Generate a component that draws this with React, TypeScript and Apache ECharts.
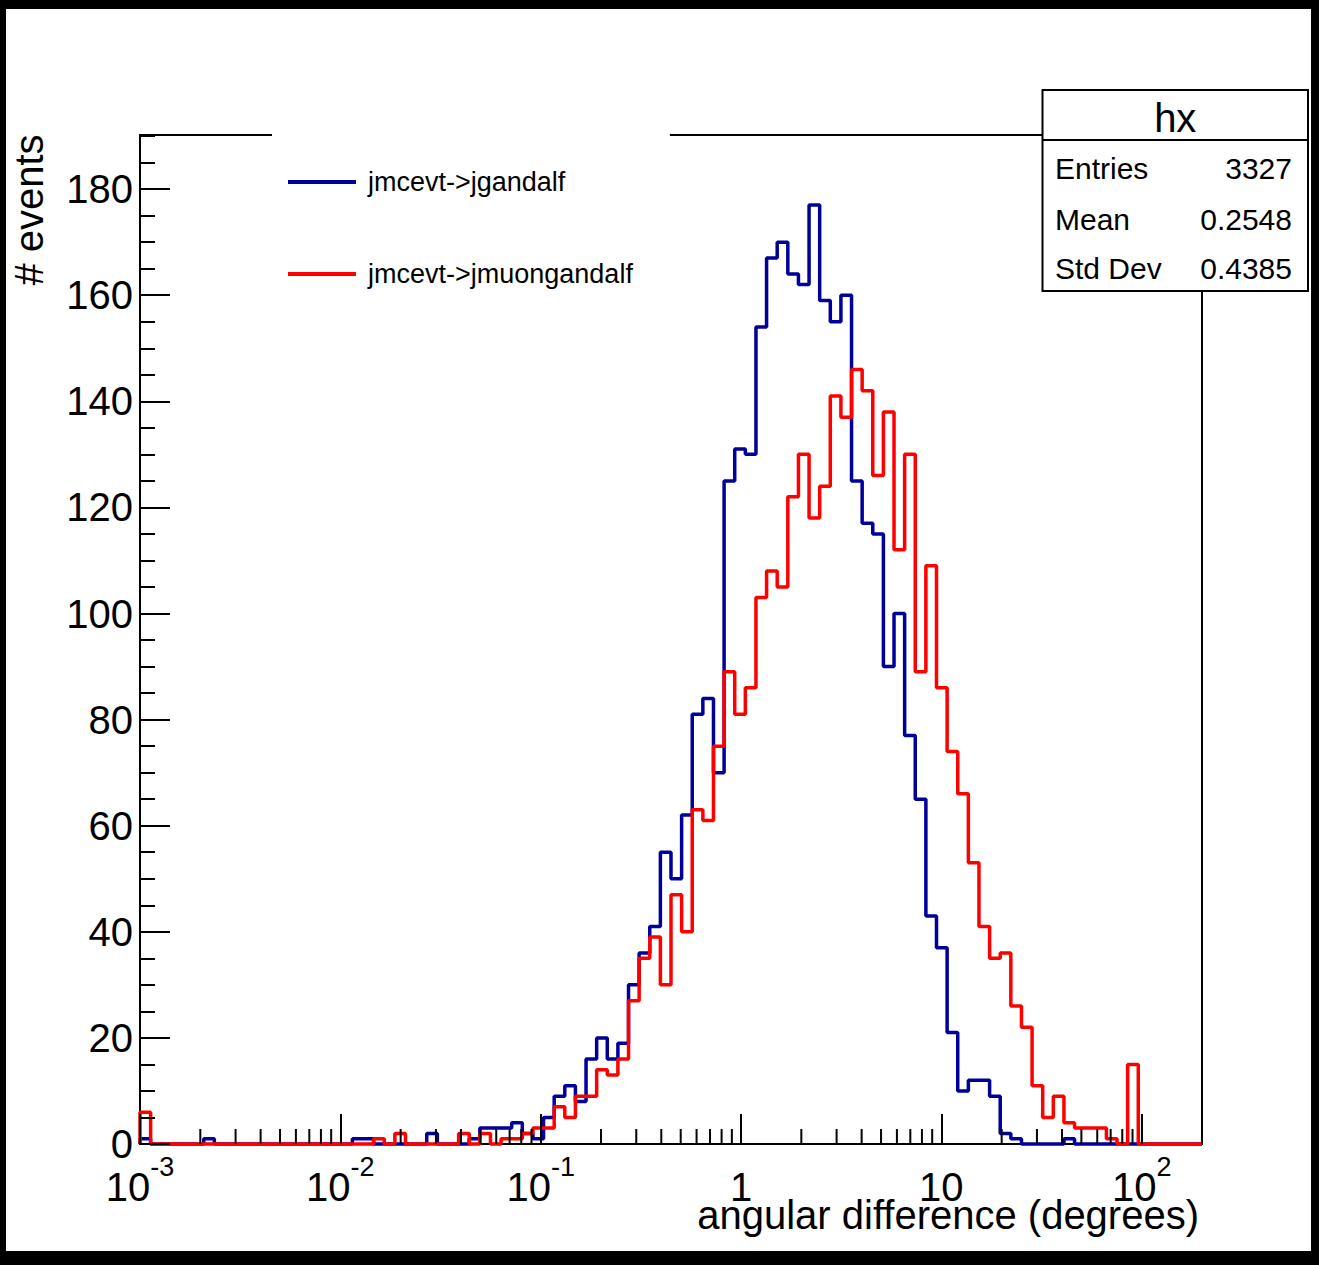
import React, { useEffect, useRef } from "react";
import * as echarts from "echarts";

// ---------------- data ----------------
// 100 logarithmic bins from 1e-3 to 200 degrees
const X_MIN_LOG = -3;
const X_MAX_LOG = Math.log10(200);

const seriesNames = ["jmcevt->jgandalf", "jmcevt->jmuongandalf"];
const seriesColors = ["#000099", "#ff0000"];

const blueCounts = [
  1, 0, 0, 0, 0, 0, 1, 0, 0, 0,
  0, 0, 0, 0, 0, 0, 0, 0, 0, 0,
  1, 1, 0, 0, 0, 0, 0, 2, 0, 0,
  0, 1, 3, 3, 3, 4, 2, 1, 5, 9,
  11, 8, 16, 20, 16, 19, 30, 36, 41, 55,
  50, 62, 81, 84, 70, 125, 131, 130, 154, 167,
  170, 164, 162, 177, 159, 155, 160, 125, 117, 115,
  90, 100, 77, 65, 43, 37, 21, 10, 12, 12,
  9, 2, 1, 0, 0, 0, 0, 1, 0, 0,
  0, 0, 0, 0, 0, 0, 0, 0, 0, 0,
];

const redCounts = [
  6, 0, 0, 0, 0, 0, 0, 0, 0, 0,
  0, 0, 0, 0, 0, 0, 0, 0, 0, 0,
  0, 0, 1, 0, 2, 0, 0, 0, 0, 0,
  2, 0, 2, 0, 1, 1, 2, 3, 3, 7,
  5, 9, 9, 14, 13, 16, 27, 35, 39, 30,
  47, 40, 63, 61, 75, 89, 81, 86, 103, 108,
  105, 122, 130, 118, 124, 141, 137, 146, 142, 126,
  138, 112, 130, 89, 109, 86, 74, 66, 53, 41,
  35, 36, 26, 22, 11, 5, 9, 4, 3, 3,
  3, 1, 0, 15, 0, 0, 0, 0, 0, 0,
];

const statsTitle = "hx";
const statsLabels = ["Entries", "Mean", "Std Dev"];
const statsValues = ["3327", "0.2548", "0.4385"];

const xTitle = "angular difference (degrees)";
const yTitle = "# events";

const Y_MAX = 190.2;
const Y_INTERVAL = 20;

// ---------------- layout ----------------
const FONT = "'Liberation Sans', Arial, Helvetica, sans-serif";
const OX = 6; // outer black border
const OY = 9;
const W = 1305;
const H = 1242;

const GRID = { left: 140 - OX, top: 135 - OY, width: 1062, height: 1009 };

function stepPoints(counts: number[]): number[][] {
  const w = (X_MAX_LOG - X_MIN_LOG) / counts.length;
  const pts: number[][] = [[X_MIN_LOG, 0]];
  counts.forEach((c, i) => {
    pts.push([X_MIN_LOG + i * w, c]);
    pts.push([X_MIN_LOG + (i + 1) * w, c]);
  });
  pts.push([X_MAX_LOG, 0]);
  return pts;
}

function logMinorTicks(): number[][] {
  const out: number[][] = [];
  for (let n = -3; n <= 2; n++) {
    for (let k = 2; k <= 9; k++) {
      const v = n + Math.log10(k);
      if (v <= X_MAX_LOG + 1e-9) out.push([v, 0]);
    }
  }
  return out;
}

function buildOption(): any {
  const statsBox = { x: 1042.5 - OX, y: 90 - OY, w: 265.5, h: 201 };
  const sepY = 140 - OY;
  const rowY = [168 - OY, 219 - OY, 268 - OY];

  return {
    animation: false,
    backgroundColor: "#ffffff",
    grid: {
      ...GRID,
      show: true,
      borderColor: "#000",
      borderWidth: 2,
      backgroundColor: "transparent",
      containLabel: false,
    },
    legend: {
      data: seriesNames,
      orient: "vertical",
      left: 272 - OX,
      top: 127 - OY,
      padding: [40, 37, 40, 16],
      itemGap: 62,
      itemWidth: 68,
      itemHeight: 4,
      icon: "rect",
      backgroundColor: "#ffffff",
      selectedMode: false,
      textStyle: {
        fontSize: 27,
        fontFamily: FONT,
        color: "#000",
        lineHeight: 30,
        padding: [0, 0, 0, 7],
      },
    },
    xAxis: {
      type: "value",
      min: X_MIN_LOG,
      max: X_MAX_LOG,
      interval: 1,
      z: 5,
      axisLine: { show: false, onZero: false },
      axisTick: {
        show: true,
        inside: true,
        length: 30,
        lineStyle: { color: "#000", width: 2 },
      },
      splitLine: { show: false },
      axisLabel: {
        margin: 9,
        showMaxLabel: false,
        color: "#000",
        formatter: (v: number) => {
          const e = Math.round(v);
          if (e === 0) return "{b|1}";
          if (e === 1) return "{b|10}";
          return `{b|10}{s|${e < 0 ? "-" : ""}${Math.abs(e)}}`;
        },
        rich: {
          b: {
            fontSize: 40,
            fontFamily: FONT,
            color: "#000",
            lineHeight: 54,
            verticalAlign: "bottom",
          },
          s: {
            fontSize: 27,
            fontFamily: FONT,
            color: "#000",
            lineHeight: 26,
            verticalAlign: "top",
          },
        },
      },
    },
    yAxis: {
      type: "value",
      min: 0,
      max: Y_MAX,
      interval: Y_INTERVAL,
      z: 5,
      axisLine: { show: false, onZero: false },
      axisTick: {
        show: true,
        inside: true,
        length: 30,
        lineStyle: { color: "#000", width: 2 },
      },
      minorTick: {
        show: true,
        splitNumber: 4,
        length: 15,
        lineStyle: { color: "#000", width: 2 },
      },
      splitLine: { show: false },
      minorSplitLine: { show: false },
      axisLabel: {
        fontSize: 40,
        fontFamily: FONT,
        color: "#000",
        margin: 7,
        showMaxLabel: false,
      },
    },
    series: [
      {
        name: seriesNames[0],
        type: "line",
        data: stepPoints(blueCounts),
        showSymbol: false,
        symbol: "none",
        z: 3,
        clip: false,
        itemStyle: { color: seriesColors[0] },
        lineStyle: { color: seriesColors[0], width: 3.5 },
      },
      {
        name: seriesNames[1],
        type: "line",
        data: stepPoints(redCounts),
        showSymbol: false,
        symbol: "none",
        z: 3,
        clip: false,
        itemStyle: { color: seriesColors[1] },
        lineStyle: { color: seriesColors[1], width: 3.5 },
      },
      {
        name: "xMinorTicks",
        type: "custom",
        data: logMinorTicks(),
        z: 5,
        silent: true,
        clip: false,
        encode: { x: 0, y: 1 },
        renderItem: (params: any, api: any) => {
          const p = api.coord([api.value(0), 0]);
          return {
            type: "line",
            shape: { x1: p[0], y1: p[1], x2: p[0], y2: p[1] - 15 },
            style: { stroke: "#000", lineWidth: 2 },
          };
        },
      },
    ],
    graphic: {
      elements: [
        {
          type: "text",
          x: 28.5 - OX,
          y: 210 - OY,
          rotation: Math.PI / 2,
          style: {
            text: yTitle,
            fontSize: 40,
            fontFamily: FONT,
            fill: "#000",
            textAlign: "center",
            textVerticalAlign: "middle",
          },
        },
        {
          type: "text",
          x: 1199 - OX,
          y: 1215 - OY,
          style: {
            text: xTitle,
            fontSize: 40,
            fontFamily: FONT,
            fill: "#000",
            textAlign: "right",
            textVerticalAlign: "middle",
          },
        },
        {
          type: "group",
          z: 100,
          children: [
            {
              type: "rect",
              z: 100,
              shape: { x: statsBox.x, y: statsBox.y, width: statsBox.w, height: statsBox.h },
              style: { fill: "#fff", stroke: "#000", lineWidth: 2 },
            },
            {
              type: "line",
              z: 101,
              shape: { x1: statsBox.x, y1: sepY, x2: statsBox.x + statsBox.w, y2: sepY },
              style: { stroke: "#000", lineWidth: 2 },
            },
            {
              type: "text",
              z: 101,
              x: statsBox.x + statsBox.w / 2,
              y: 118 - OY,
              style: {
                text: statsTitle,
                fontSize: 40,
                fontFamily: FONT,
                fill: "#000",
                textAlign: "center",
                textVerticalAlign: "middle",
              },
            },
            ...statsLabels.map((t, i) => ({
              type: "text",
              z: 101,
              x: 1055 - OX,
              y: rowY[i],
              style: {
                text: t,
                fontSize: 30,
                fontFamily: FONT,
                fill: "#000",
                textAlign: "left",
                textVerticalAlign: "middle",
              },
            })),
            ...statsValues.map((t, i) => ({
              type: "text",
              z: 101,
              x: 1292 - OX,
              y: rowY[i],
              style: {
                text: t,
                fontSize: 30,
                fontFamily: FONT,
                fill: "#000",
                textAlign: "right",
                textVerticalAlign: "middle",
              },
            })),
          ],
        },
      ],
    },
  };
}

export default function App() {
  const ref = useRef<HTMLDivElement>(null);
  useEffect(() => {
    if (!ref.current) return;
    const chart = echarts.init(ref.current, undefined, { renderer: "svg" });
    chart.setOption(buildOption());
    return () => {
      chart.dispose();
    };
  }, []);
  return (
    <div
      style={{
        position: "absolute",
        left: 0,
        top: 0,
        width: 1319,
        height: 1265,
        background: "#000",
      }}
    >
      <div
        ref={ref}
        style={{
          position: "absolute",
          left: OX,
          top: OY,
          width: W,
          height: H,
          background: "#fff",
        }}
      />
    </div>
  );
}
